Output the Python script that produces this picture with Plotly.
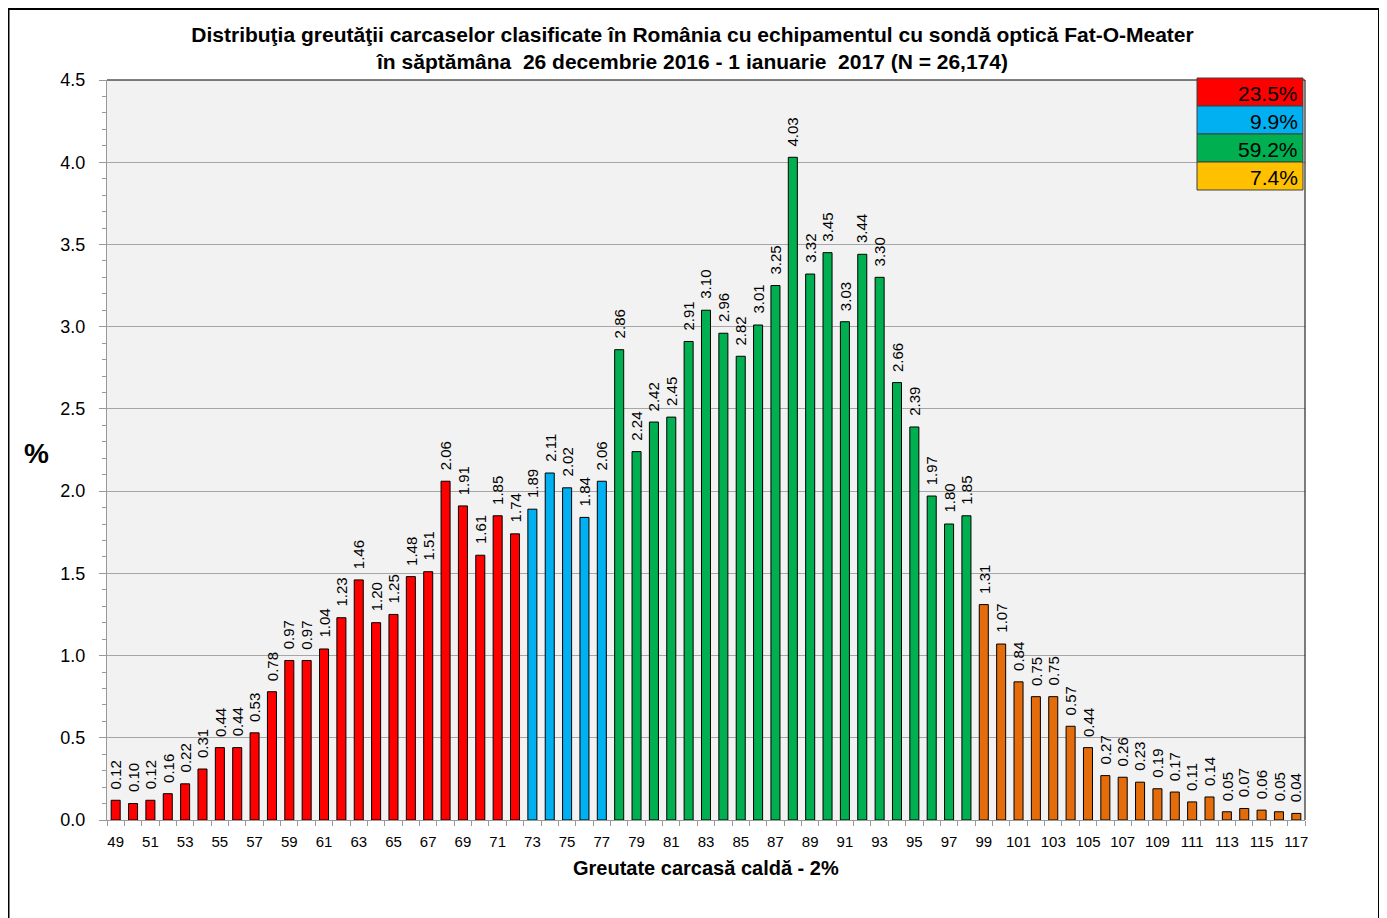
import plotly.graph_objects as go

weights = list(range(49, 118))
values = [0.12, 0.10, 0.12, 0.16, 0.22, 0.31, 0.44, 0.44, 0.53, 0.78,
          0.97, 0.97, 1.04, 1.23, 1.46, 1.20, 1.25, 1.48, 1.51, 2.06,
          1.91, 1.61, 1.85, 1.74,
          1.89, 2.11, 2.02, 1.84, 2.06,
          2.86, 2.24, 2.42, 2.45, 2.91, 3.10, 2.96, 2.82, 3.01, 3.25,
          4.03, 3.32, 3.45, 3.03, 3.44, 3.30, 2.66, 2.39, 1.97, 1.80, 1.85,
          1.31, 1.07, 0.84, 0.75, 0.75, 0.57, 0.44, 0.27, 0.26, 0.23,
          0.19, 0.17, 0.11, 0.14, 0.05, 0.07, 0.06, 0.05, 0.04]
class_upper = [72, 77, 98, 117]          # upper weight bound of each class
class_share = ["23.5%", "9.9%", "59.2%", "7.4%"]
bar_colors = ["#FF0000", "#00B0F0", "#00B050", "#E46C0A"]
box_colors = ["#FF0000", "#00B0F0", "#00B050", "#FFC000"]

def cls(w):
    for i, u in enumerate(class_upper):
        if w <= u:
            return i
    return len(class_upper) - 1

colors = [bar_colors[cls(w)] for w in weights]

FONT = "Liberation Sans, Arial, sans-serif"

W, H = 1379, 910
L, T = 99, 72
pw, ph = 1198, 740
R, B = W - L - pw, H - T - ph

def px(xp):
    return (xp - L) / pw
def py(yp):
    return (T + ph - yp) / ph

fig = go.Figure()
fig.add_trace(go.Bar(
    x=weights, y=values,
    marker=dict(color=colors, line=dict(color="#000000", width=1)),
    cliponaxis=False, width=0.52,
))

# value labels (rotated)
for w, v in zip(weights, values):
    fig.add_annotation(x=w, y=v, xref="x", yref="y", text=f"{v:.2f}",
                       showarrow=False, textangle=-90,
                       xanchor="center", yanchor="bottom", yshift=9,
                       font=dict(family=FONT, size=15, color="#000000"))

fig.update_layout(
    width=W, height=H,
    margin=dict(l=L, r=R, t=T, b=B),
    paper_bgcolor="white", plot_bgcolor="#F2F2F2",
    showlegend=False,
    font=dict(family=FONT, color="#000000"),
    title=dict(
        text="Distribuţia greutăţii carcaselor clasificate în România cu echipamentul cu sondă optică Fat-O-Meater<br>în săptămâna  26 decembrie 2016 - 1 ianuarie  2017 (N = 26,174)",
        x=px(684.5), xref="paper", xanchor="center",
        y=1 - 34 / H, yanchor="top",
        font=dict(family=FONT, size=21, color="#000000", weight="bold"),
    ),
    xaxis=dict(
        range=[48.5, 117.5], tickvals=list(range(49, 118, 2)),
        ticks="", showgrid=False, zeroline=False,
        showline=True, linecolor="#999999", linewidth=1,
        ticklabelstandoff=8,
        tickfont=dict(family=FONT, size=15, color="#000000"),
        minor=dict(tick0=48.5, dtick=1, ticks="outside", ticklen=5,
                   tickcolor="#999999", showgrid=False),
    ),
    yaxis=dict(
        range=[0, 4.5], dtick=0.5, tickformat=".1f",
        ticks="outside", ticklen=7, tickcolor="#999999",
        ticklabelstandoff=10,
        showgrid=True, gridcolor="#A6A6A6", gridwidth=1,
        zeroline=False, showline=True, linecolor="#999999", linewidth=1,
        tickfont=dict(family=FONT, size=18, color="#000000"),
        minor=dict(dtick=0.1, ticks="outside", ticklen=4, tickcolor="#999999"),
    ),
)

# frame top and right (black)
fig.add_shape(type="line", xref="paper", yref="paper", x0=0, x1=1, y0=1, y1=1,
              line=dict(color="#000000", width=1))
fig.add_shape(type="line", xref="paper", yref="paper", x0=1, x1=1, y0=0, y1=1,
              line=dict(color="#000000", width=1))

# outer border
fig.add_shape(type="rect", xref="paper", yref="paper",
              x0=px(0.5), x1=px(1371), y0=py(930), y1=py(1),
              line=dict(color="#000000", width=2), fillcolor="rgba(0,0,0,0)")

# class share box
bx0, bx1, by0, rowh = 1189, 1295, 70, 28
for i, (s, c) in enumerate(zip(class_share, box_colors)):
    y0 = by0 + i * rowh
    fig.add_shape(type="rect", xref="paper", yref="paper",
                  x0=px(bx0), x1=px(bx1), y0=py(y0 + rowh), y1=py(y0),
                  line=dict(color="#404040", width=1), fillcolor=c)
    fig.add_annotation(xref="paper", yref="paper", x=px(bx1 - 3), y=py(y0 + rowh / 2 + 1),
                       text=s, showarrow=False, xanchor="right", yanchor="middle",
                       font=dict(family=FONT, size=21, color="#000000"))

# axis titles
fig.add_annotation(xref="paper", yref="paper", x=px(28), y=py(445), text="<b>%</b>",
                   showarrow=False, xanchor="center", yanchor="middle",
                   font=dict(family=FONT, size=28, color="#000000"))
fig.add_annotation(xref="paper", yref="paper", x=px(698), y=py(860),
                   text="<b>Greutate carcasă caldă - 2%</b>",
                   showarrow=False, xanchor="center", yanchor="middle",
                   font=dict(family=FONT, size=20, color="#000000"))

fig.write_html("out.html")
